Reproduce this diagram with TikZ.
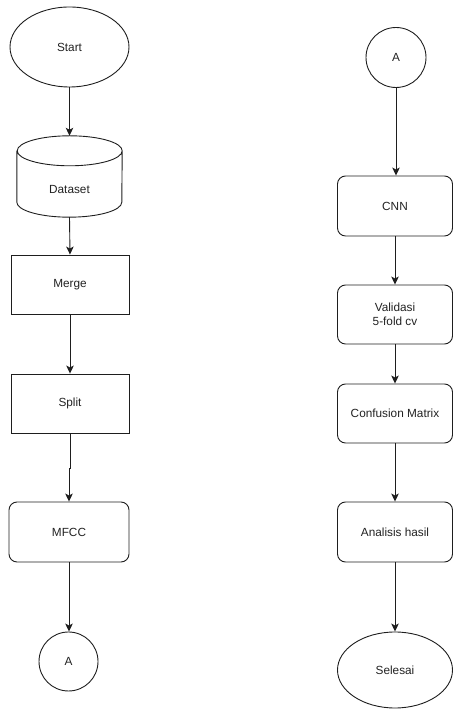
\documentclass[tikz,border=0pt]{standalone}
\usepackage{fontspec}
\setmainfont{Liberation Sans}
\usetikzlibrary{shapes.geometric,arrows.meta}
\definecolor{ink}{HTML}{1E1E1E}
\definecolor{txt}{HTML}{222222}
\tikzset{
  base/.style={draw=ink, line width=0.9pt, text=txt,
    font=\fontsize{11.8}{14}\selectfont, inner sep=2pt},
  terminal/.style={base, ellipse},
  procbox/.style={base, rectangle, minimum width=118pt, minimum height=59pt},
  roundbox/.style={base, rectangle, rounded corners=8pt, minimum height=60pt},
  connector/.style={base, circle, minimum size=59pt},
  flow/.style={draw=ink, line width=0.9pt,
    -{Stealth[length=8pt,width=7.5pt,inset=2pt]}},
}
\begin{document}
\begin{tikzpicture}[x=1pt,y=1pt]
\useasboundingbox (0,0) rectangle (453,709);

% left column
\node[terminal, minimum width=119pt, minimum height=80pt] (start) at (69.5,662) {Start};
\node[minimum width=105pt, minimum height=81pt, inner sep=0pt] (dataset) at (69.5,532.5) {};
\draw[ink, line width=0.9pt]
  ([yshift=-15pt]dataset.north west) -- ([yshift=15pt]dataset.south west)
  arc[start angle=180, end angle=360, x radius=52.5pt, y radius=15pt]
  -- ([yshift=-15pt]dataset.north east)
  arc[start angle=0, end angle=180, x radius=52.5pt, y radius=15pt]
  arc[start angle=180, end angle=360, x radius=52.5pt, y radius=15pt];
\node[text=txt, font=\fontsize{11.8}{14}\selectfont] (datasetlabel) at (69.5,519) {Dataset};
\node[procbox] (merge) at (70,424.5) {Merge};
\node[procbox] (split) at (70,305.5) {Split};
\node[roundbox, minimum width=120pt] (mfcc) at (69,177) {MFCC};
\node[connector] (a1) at (68.5,47.5) {A};

% right column
\node[connector, minimum size=60pt] (a2) at (396,651.5) {A};
\node[roundbox, minimum width=115pt] (cnn) at (395,503) {CNN};
\node[roundbox, minimum width=115pt, minimum height=59pt, align=center] (val) at (395,394.5) {Validasi\\5-fold cv};
\node[roundbox, minimum width=115pt, minimum height=59pt] (cm) at (395,295.5) {Confusion Matrix};
\node[roundbox, minimum width=115pt] (ana) at (395,177) {Analisis hasil};
\node[terminal, minimum width=115pt, minimum height=76pt] (end) at (395,39) {Selesai};

% connectors
\draw[flow] (start.south) -- (dataset.north);
\draw[flow] (dataset.south) -- (merge.north);
\draw[flow] (merge.south) -- (split.north);
\draw[flow] (split.south) -- ++(0,-35) -| (mfcc.north);
\draw[flow] (mfcc.south) -- (mfcc.south |- a1.north);
\draw[flow] (a2.south) -- (a2.south |- cnn.north);
\draw[flow] (cnn.south) -- (val.north);
\draw[flow] (val.south) -- (cm.north);
\draw[flow] (cm.south) -- (ana.north);
\draw[flow] (ana.south) -- (end.north);
\end{tikzpicture}
\end{document}
